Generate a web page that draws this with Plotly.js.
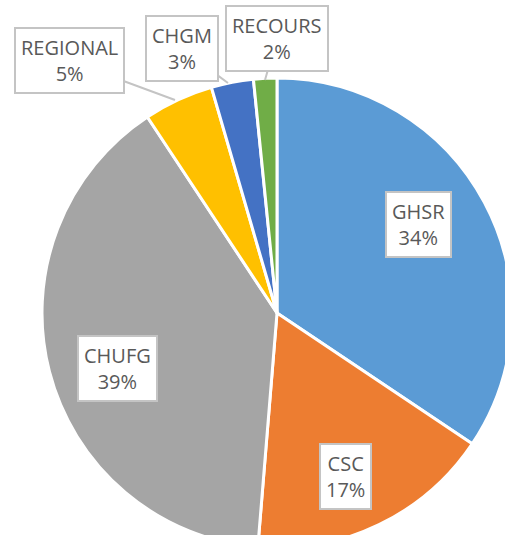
<!DOCTYPE html>
<html>
<head>
<meta charset="utf-8">
<script src="https://cdn.plot.ly/plotly-3.0.1.min.js"></script>
<style>
html,body{margin:0;padding:0;overflow:hidden;background:#fff;width:505px;height:535px;}
#chart{width:520px;height:560px;}
</style>
</head>
<body>
<div id="chart"></div>
<script>
const categories = ["GHSR", "CSC", "CHUFG", "REGIONAL", "CHGM", "RECOURS"];
const values = [34.4, 16.9, 39.4, 4.8, 2.9, 1.6];
const colors = ["#5B9BD5", "#ED7D31", "#A5A5A5", "#FFC000", "#4472C4", "#70AD47"];

const W = 520, H = 560, L = 42, T = 78, R = 8, B = 12;
const PW = W - L - R, PH = H - T - B;
const px = x => (x - L) / PW;
const py = y => 1 - (y - T) / PH;

const total = values.reduce((a, b) => a + b, 0);
const labelText = i => categories[i] + "<br>" + Math.round(values[i] / total * 100) + "%";

// label placement (pixel): inside boxes centers; outside: tip + box center
const inside = {0: [418, 224], 1: [345, 476], 2: [117, 368]};
const outside = {3: {tip: [175, 100], box: [69, 61]}, 4: {tip: [228, 83], box: [182, 49]}, 5: {tip: [265, 80], box: [277, 38]}};

const font = {family: "Open Sans, Arial, sans-serif", size: 20, color: "#595959"};
const annotations = [];
categories.forEach((c, i) => {
  const base = {
    text: labelText(i), font: font, xref: "paper", yref: "paper",
    bgcolor: "#ffffff", bordercolor: "#c4c4c4", borderwidth: 2, borderpad: 5,
    align: "center"
  };
  if (inside[i]) {
    annotations.push(Object.assign(base, {x: px(inside[i][0]), y: py(inside[i][1]), showarrow: false, xanchor: "center", yanchor: "middle"}));
  } else {
    const o = outside[i];
    annotations.push(Object.assign(base, {
      x: px(o.tip[0]), y: py(o.tip[1]), showarrow: true, arrowhead: 0,
      arrowcolor: "#c4c4c4", arrowwidth: 2,
      ax: o.box[0] - o.tip[0], ay: o.box[1] - o.tip[1]
    }));
  }
});

const data = [{
  type: "pie",
  labels: categories,
  values: values,
  sort: false,
  direction: "clockwise",
  rotation: 0,
  textinfo: "none",
  hoverinfo: "none",
  marker: {colors: colors, line: {color: "#ffffff", width: 3}},
  domain: {x: [0, 1], y: [0, 1]}
}];

const layout = {
  width: W, height: H,
  margin: {l: L, r: R, t: T, b: B},
  showlegend: false,
  paper_bgcolor: "#ffffff",
  annotations: annotations
};

Plotly.newPlot("chart", data, layout, {staticPlot: true, displayModeBar: false});
</script>
</body>
</html>
